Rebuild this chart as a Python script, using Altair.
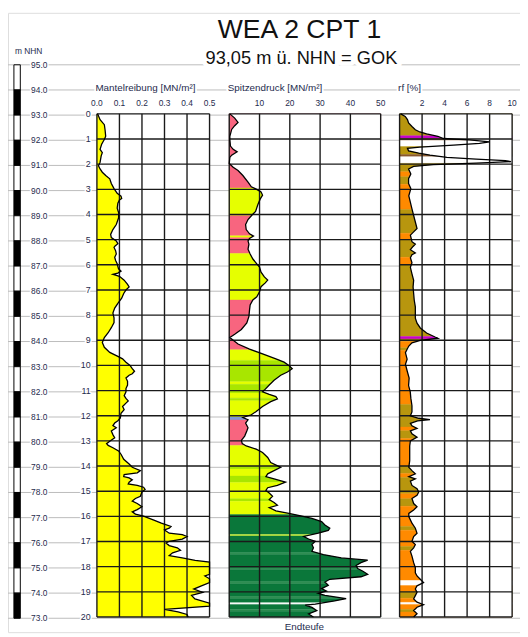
import altair as alt
import pandas as pd

TITLE = "WEA 2 CPT 1"
SUBTITLE = "93,05 m ü. NHN = GOK"
GOK_NHN = 93.05
END_LABEL = "Endteufe"
NHN_UNIT = "m NHN"
HEADERS = ["Mantelreibung [MN/m²]", "Spitzendruck [MN/m²]", "rf [%]"]

# ---------------- Mantelreibung [MN/m²] ----------------
mantel_depth = [0, 0.23, 0.43, 0.62, 0.89, 1.02, 1.08, 1.21, 1.41, 1.54, 1.67, 1.93, 2.06, 2.19, 2.32, 2.45,
                2.58, 2.77, 2.97, 3.16, 3.27, 3.36, 3.42, 3.55, 3.75, 3.94, 4.14, 4.4, 4.6, 4.79, 4.92, 5.05,
                5.16, 5.25, 5.31, 5.44, 5.57, 5.7, 5.83, 5.96, 6.16, 6.25, 6.33, 6.38, 6.46, 6.61, 6.78, 6.88,
                7.0, 7.14, 7.33, 7.53, 7.72, 7.92, 8.11, 8.3, 8.5, 8.7, 8.89, 9.09, 9.28, 9.48, 9.64, 9.74,
                9.87, 10.0, 10.13, 10.23, 10.33, 10.39, 10.5, 10.63, 10.78, 10.92, 11.05, 11.2, 11.31, 11.41,
                11.5, 11.63, 11.76, 11.9, 12.09, 12.2, 12.29, 12.39, 12.48, 12.61, 12.75, 12.88, 13.01, 13.11,
                13.18, 13.27, 13.4, 13.53, 13.73, 13.92, 14.05, 14.18, 14.27, 14.34, 14.42, 14.47, 14.55,
                14.64, 14.71, 14.77, 14.84, 14.93, 15.03, 15.2, 15.29, 15.39, 15.49, 15.62, 15.73, 15.82,
                15.91, 15.99, 16.14, 16.27, 16.4, 16.47, 16.54, 16.67, 16.73, 16.8, 16.9, 16.99, 17.06, 17.16,
                17.25, 17.35, 17.45, 17.56, 17.65, 17.75, 17.82, 18.3, 18.37, 18.48, 18.63, 18.76, 18.89,
                19.02, 19.14, 19.28, 19.45, 19.57, 19.7, 19.8, 19.9, 20.0]
mantel_value = [0.003, 0.014, 0.033, 0.036, 0.039, 0.033, 0.029, 0.021, 0.014, 0.024, 0.019, 0.014, 0.007, 0.014,
                0.024, 0.039, 0.057, 0.064, 0.076, 0.09, 0.107, 0.11, 0.1, 0.093, 0.09, 0.097, 0.096, 0.086,
                0.071, 0.061, 0.064, 0.086, 0.093, 0.081, 0.076, 0.083, 0.086, 0.079, 0.083, 0.09, 0.096, 0.107,
                0.093, 0.071, 0.1, 0.121, 0.136, 0.143, 0.129, 0.119, 0.11, 0.093, 0.079, 0.071, 0.076, 0.076,
                0.064, 0.05, 0.033, 0.024, 0.033, 0.057, 0.093, 0.114, 0.129, 0.147, 0.157, 0.167, 0.157, 0.143,
                0.129, 0.136, 0.136, 0.129, 0.129, 0.121, 0.129, 0.139, 0.129, 0.114, 0.121, 0.107, 0.104, 0.093,
                0.079, 0.071, 0.086, 0.064, 0.071, 0.079, 0.057, 0.043, 0.05, 0.071, 0.096, 0.107, 0.119, 0.143,
                0.157, 0.193, 0.179, 0.121, 0.119, 0.143, 0.157, 0.143, 0.139, 0.179, 0.207, 0.214, 0.2, 0.193,
                0.171, 0.157, 0.179, 0.2, 0.179, 0.157, 0.171, 0.207, 0.25, 0.286, 0.329, 0.321, 0.3, 0.321,
                0.379, 0.4, 0.379, 0.321, 0.307, 0.321, 0.357, 0.371, 0.336, 0.321, 0.379, 0.436, 0.5, 0.5,
                0.479, 0.5, 0.5, 0.464, 0.43, 0.47, 0.42, 0.435, 0.5, 0.5, 0.3, 0.36, 0.4, 0.405]

# ---------------- Spitzendruck [MN/m²] ----------------
spitzen_depth = [0, 0.17, 0.34, 0.47, 0.62, 0.89, 1.02, 1.28, 1.41, 1.51, 1.64, 1.73, 1.97, 2.12, 2.25, 2.45,
                 2.71, 2.9, 2.99, 3.1, 3.23, 3.39, 3.62, 3.88, 4.01, 4.2, 4.4, 4.6, 4.77, 4.86, 4.95, 5.05,
                 5.18, 5.38, 5.57, 5.77, 5.96, 6.09, 6.29, 6.48, 6.61, 6.72, 6.87, 7.07, 7.27, 7.4, 7.6, 7.79,
                 8.05, 8.31, 8.57, 8.76, 8.89, 8.98, 9.15, 9.35, 9.54, 9.74, 9.87, 10.0, 10.13, 10.26, 10.39,
                 10.59, 10.78, 10.98, 11.05, 11.15, 11.24, 11.33, 11.44, 11.63, 11.83, 11.96, 12.07, 12.16,
                 12.29, 12.48, 12.61, 12.81, 12.98, 13.11, 13.2, 13.33, 13.46, 13.66, 13.86, 14.05, 14.18,
                 14.31, 14.42, 14.51, 14.64, 14.77, 14.86, 14.97, 15.07, 15.2, 15.33, 15.45, 15.56, 15.65,
                 15.78, 15.88, 15.99, 16.08, 16.21, 16.34, 16.47, 16.56, 16.67, 16.8, 16.9, 16.99, 17.12,
                 17.25, 17.39, 17.52, 17.65, 17.74, 17.84, 17.95, 18.07, 18.17, 18.3, 18.4, 18.5, 18.61,
                 18.74, 18.87, 18.97, 19.06, 19.14, 19.27, 19.36, 19.49, 19.53, 19.62, 19.75, 19.88, 20.0]
spitzen_value = [0.2, 1.8, 2.9, 1.8, 0.8, 0.2, 0.2, 0.4, 1.3, 2.6, 0.8, 0.2, 0.0, 1.3, 2.9, 4.5, 6.2, 7.3, 8.9,
                 10.5, 11.0, 10.2, 9.4, 8.7, 7.6, 6.2, 5.4, 5.6, 6.7, 8.0, 6.7, 6.2, 6.5, 6.2, 6.9, 7.8, 9.1,
                 10.0, 10.5, 11.6, 12.7, 11.9, 10.5, 10.0, 9.1, 7.8, 6.9, 6.7, 6.5, 5.8, 4.0, 1.8, 0.2, 1.1,
                 2.9, 6.7, 11.0, 15.4, 18.1, 19.7, 20.8, 19.2, 17.0, 14.8, 13.2, 11.6, 11.0, 13.2, 15.4, 15.9,
                 13.7, 11.0, 8.9, 7.3, 4.5, 6.2, 5.4, 6.2, 5.8, 5.1, 4.0, 4.3, 5.6, 8.9, 11.0, 12.7, 13.7, 17.0,
                 14.8, 12.7, 12.1, 14.8, 18.6, 15.9, 12.7, 12.1, 13.2, 14.3, 13.2, 14.8, 15.9, 13.2, 15.4,
                 19.7, 24.0, 27.3, 30.5, 31.6, 33.2, 32.7, 29.4, 24.6, 26.2, 28.4, 27.3, 27.8, 27.3, 31.1,
                 37.0, 45.7, 43.5, 41.9, 42.4, 44.0, 45.7, 43.5, 33.2, 31.6, 32.7, 30.5, 32.1, 29.4, 31.6,
                 38.6, 34.8, 28.4, 25.1, 27.3, 28.9, 26.2, 27.8]

spitzen_band_soil = ["pink", "yellow", "pink", "yellow", "pink", "yellow", "pink", "blue", "pink", "yellow",
                     "lime", "yellow", "lime", "yellow", "lime", "yellow", "blue", "pink", "yellow", "lime",
                     "yellow", "lime", "yellow", "lime", "yellow", "dkgreen", "ltyellow", "dkgreen", "dkgreen2",
                     "dkgreen", "dkgreen2", "dkgreen", "dkgreen2", "dkgreen", "dkgreen2", "dkgreen", "white",
                     "dkgreen", "dkgreen2", "dkgreen"]
spitzen_band_top = [0, 2.95, 4.05, 4.85, 4.92, 5.55, 7.4, 8.87, 8.95, 9.38, 9.8, 10.65, 10.75, 11.1, 11.3,
                    11.4, 12.05, 12.17, 13.18, 14.0, 14.12, 14.4, 14.65, 15.3, 15.4, 15.93, 16.72, 16.78,
                    17.45, 17.52, 18.05, 18.12, 18.6, 18.68, 19.2, 19.27, 19.43, 19.5, 19.7, 19.77]
spitzen_band_bottom = [2.95, 4.05, 4.85, 4.92, 5.55, 7.4, 8.87, 8.95, 9.38, 9.8, 10.65, 10.75, 11.1, 11.3,
                       11.4, 12.05, 12.17, 13.18, 14.0, 14.12, 14.4, 14.65, 15.3, 15.4, 15.93, 16.72, 16.78,
                       17.45, 17.52, 18.05, 18.12, 18.6, 18.68, 19.2, 19.27, 19.43, 19.5, 19.7, 19.77, 20.0]

# ---------------- rf [%] ----------------
rf_depth = [0, 0.1, 0.23, 0.36, 0.5, 0.63, 0.72, 0.8, 0.89, 0.98, 1.03, 1.11, 1.17, 1.24, 1.32, 1.37, 1.47,
            1.56, 1.64, 1.73, 1.8, 1.86, 1.9, 1.96, 2.02, 2.09, 2.19, 2.39, 2.58, 2.77, 2.97, 3.26, 3.52,
            3.78, 4.04, 4.3, 4.56, 4.69, 4.82, 5.08, 5.18, 5.27, 5.4, 5.53, 5.6, 5.72, 5.92, 6.1, 6.36,
            6.62, 6.88, 7.14, 7.4, 7.67, 7.93, 8.12, 8.32, 8.51, 8.71, 8.87, 8.92, 9.0, 9.1, 9.23, 9.36,
            9.49, 9.75, 9.95, 10.26, 10.5, 10.8, 11.05, 11.3, 11.6, 11.85, 12.0, 12.1, 12.15, 12.2, 12.3,
            12.4, 12.5, 12.6, 12.72, 12.85, 13.0, 13.2, 13.53, 13.79, 14.05, 14.18, 14.31, 14.42, 14.51,
            14.6, 14.77, 14.9, 15.03, 15.16, 15.29, 15.49, 15.62, 15.75, 15.88, 16.01, 16.14, 16.27,
            16.47, 16.67, 16.8, 16.99, 17.12, 17.25, 17.39, 17.58, 17.84, 18.04, 18.24, 18.37, 18.5,
            18.63, 18.76, 18.89, 19.02, 19.15, 19.28, 19.41, 19.51, 19.61, 19.74, 19.87, 20.0]
rf_value = [0.1, 0.5, 0.7, 0.8, 1.1, 1.4, 1.8, 2.4, 3.4, 3.9, 6.2, 8.0, 7.1, 4.8, 1.8, 0.7, 0.8, 1.7, 2.7,
            4.2, 6.8, 9.4, 9.9, 6.8, 3.0, 1.25, 0.8, 1.0, 0.8, 0.8, 1.0, 0.82, 0.96, 1.1, 1.25, 1.4, 1.55,
            1.25, 0.96, 1.1, 1.4, 1.2, 0.96, 1.4, 1.1, 0.96, 1.1, 0.96, 1.1, 1.25, 1.2, 1.25, 1.3, 1.4,
            1.4, 1.4, 1.55, 1.84, 2.4, 3.15, 3.4, 1.84, 1.1, 0.82, 0.67, 0.52, 0.67, 0.52, 0.7, 0.85, 0.8,
            0.95, 1.0, 1.1, 1.1, 0.96, 1.7, 2.7, 1.6, 0.96, 1.1, 1.55, 0.96, 1.1, 1.55, 0.96, 0.9, 0.9,
            0.9, 0.82, 1.1, 1.4, 0.82, 1.4, 0.96, 1.1, 1.55, 1.7, 1.55, 1.1, 1.25, 1.55, 1.25, 0.82, 0.82,
            0.96, 1.1, 1.4, 1.55, 1.25, 1.1, 1.4, 1.25, 0.96, 1.1, 1.25, 1.4, 1.4, 1.55, 1.84, 2.13, 1.55,
            1.4, 1.55, 1.4, 1.25, 1.55, 2.13, 1.55, 1.25, 1.55, 1.25]

rf_band_soil = ["olive", "purple", "brown", "white", "olive", "brown", "white", "olive", "orange", "olive",
                "orange", "olive", "orange", "olive", "orange", "olive", "purple", "olive", "orange", "olive",
                "orange", "olive", "orange", "olive", "orange", "olive", "orange", "olive", "orange", "olive",
                "orange", "olive", "orange", "olive", "orange", "white", "orange", "olive", "orange", "white",
                "orange", "olive", "orange"]
rf_band_top = [0, 0.87, 0.97, 1.06, 1.3, 1.62, 1.7, 1.97, 2.3, 2.5, 2.8, 3.8, 4.75, 5.0, 5.7, 6.0, 8.85,
               8.95, 9.05, 9.3, 9.4, 11.55, 12.45, 12.6, 12.9, 14.0, 14.3, 14.45, 15.1, 15.3, 15.6, 16.4,
               16.55, 17.2, 17.35, 18.55, 18.75, 19.0, 19.25, 19.42, 19.5, 19.7, 19.8]
rf_band_bottom = [0.87, 0.97, 1.06, 1.3, 1.62, 1.7, 1.97, 2.3, 2.5, 2.8, 3.8, 4.75, 5.0, 5.7, 6.0, 8.85,
                  8.95, 9.05, 9.3, 9.4, 11.55, 12.45, 12.6, 12.9, 14.0, 14.3, 14.45, 15.1, 15.3, 15.6, 16.4,
                  16.55, 17.2, 17.35, 18.55, 18.75, 19.0, 19.25, 19.42, 19.5, 19.7, 19.8, 20.0]

# ---------------- ticks / labels ----------------
depth_ticks = [0, 1, 2, 3, 4, 5, 6, 7, 8, 9, 10, 11, 12, 13, 14, 15, 16, 17, 18, 19, 20]
nhn_ticks = [95.0, 94.0, 93.0, 92.0, 91.0, 90.0, 89.0, 88.0, 87.0, 86.0, 85.0, 84.0, 83.0, 82.0, 81.0,
             80.0, 79.0, 78.0, 77.0, 76.0, 75.0, 74.0, 73.0]
scale_bar_fill = ["white", "black", "white", "black", "white", "black", "white", "black", "white", "black",
                  "white", "black", "white", "black", "white", "black", "white", "black", "white", "black",
                  "white", "black"]
mantel_ticks = [0.0, 0.1, 0.2, 0.3, 0.4, 0.5]
mantel_tick_labels = ["0.0", "0.1", "0.2", "0.3", "0.4", "0.5"]
spitzen_ticks = [0, 10, 20, 30, 40, 50]
spitzen_tick_labels = ["", "10", "20", "30", "40", "50"]
rf_ticks = [0, 2, 4, 6, 8, 10]
rf_tick_labels = ["", "2", "4", "6", "8", "10"]

soil_domain = ["pink", "yellow", "lime", "dkgreen", "dkgreen2", "ltyellow", "blue", "white",
               "olive", "orange", "purple", "brown"]
soil_range = ["#f8657f", "#e6ff00", "#a8e600", "#0a773a", "#2f8e52", "#c9ef3c", "#7f9bd6", "#ffffff",
              "#b8960e", "#ff8a00", "#c800d0", "#8a5a2e"]

# ---------------- layout ----------------
FONT = "Liberation Sans"
LABEL = "#1e2b4d"
GRID = "#1a1a1a"
W, H = 520, 629
PAGE = 8
Y0, K = 110.6, 25.55
d_top = (PAGE - Y0) / K
d_bot = (PAGE + H - Y0) / K

xs = alt.Scale(domain=[PAGE, PAGE + W], nice=False, zero=False)
ys = alt.Scale(domain=[d_top, d_bot], reverse=True, nice=False, zero=False)
cs = alt.Scale(domain=soil_domain, range=soil_range)


def X(f):
    return alt.X(f"{f}:Q", scale=xs, axis=None)


def Y(f):
    return alt.Y(f"{f}:Q", scale=ys, axis=None)


PANELS = {"mantel": (98.3, 212.7, 0.5), "spitzen": (232.7, 386.5, 50.0), "rf": (405.7, 520.0, 10.0)}


def to_px(panel, field):
    x0, x1, vmax = PANELS[panel]
    return f"{x0} + datum.{field} * {(x1 - x0) / vmax}"


def edges(panel):
    x0, x1, _ = PANELS[panel]
    return {"xl": f"{x0}", "xr": f"{x1}"}


def texts(df, enc, calc=None, halo=3.0, **props):
    props.setdefault("font", FONT)
    base = alt.Chart(df)
    if calc:
        base = base.transform_calculate(**calc)
    base = base.encode(**enc)
    out = []
    if halo:
        out.append(base.mark_text(stroke="white", strokeWidth=halo, strokeJoin="round",
                                  **{**props, "color": "white"}))
    out.append(base.mark_text(**props))
    return out


layers = []

# grey NHN lines across the sheet
nhn_df = pd.DataFrame({"nhn": nhn_ticks, "lab": [f"{v:.1f}" for v in nhn_ticks]})
layers.append(alt.Chart(nhn_df).mark_rule(color="#bcbcbc", strokeWidth=1)
              .transform_calculate(d=f"{GOK_NHN} - datum.nhn")
              .encode(x=alt.value(0), x2=alt.value(W), y=Y("d")))

# elevation scale bar
bar_df = pd.DataFrame({"top": nhn_ticks[:-1], "bot": nhn_ticks[1:], "fill": scale_bar_fill})
layers.append(alt.Chart(bar_df).mark_rect(stroke="black", strokeWidth=1)
              .transform_calculate(dt=f"{GOK_NHN} - datum.top", db=f"{GOK_NHN} - datum.bot")
              .encode(x=alt.value(6), x2=alt.value(12.5), y=Y("dt"), y2=alt.Y2("db"),
                      fill=alt.Fill("fill:N", scale=None)))

# panel backgrounds
for p in PANELS:
    layers.append(alt.Chart(pd.DataFrame({"d0": [depth_ticks[0]], "d1": [depth_ticks[-1]]}))
                  .mark_rect(color="white")
                  .transform_calculate(**edges(p))
                  .encode(x=X("xl"), x2=alt.X2("xr"), y=Y("d0"), y2=alt.Y2("d1")))

mantel_df = pd.DataFrame({"d": mantel_depth, "v": mantel_value})
spitzen_df = pd.DataFrame({"d": spitzen_depth, "v": spitzen_value})
rf_df = pd.DataFrame({"d": rf_depth, "v": rf_value})

# Mantelreibung fill
layers.append(alt.Chart(mantel_df).mark_area(orient="horizontal", color="#ffff00")
              .transform_calculate(xp=to_px("mantel", "v"), **edges("mantel"))
              .encode(x=X("xp"), x2=alt.X2("xl"), y=Y("d")))

# soil bands + white mask right of curve
for p, prof, soil, top, bot in [("spitzen", spitzen_df, spitzen_band_soil, spitzen_band_top, spitzen_band_bottom),
                                ("rf", rf_df, rf_band_soil, rf_band_top, rf_band_bottom)]:
    bdf = pd.DataFrame({"soil": soil, "top": top, "bot": bot})
    layers.append(alt.Chart(bdf).mark_rect(strokeWidth=0.4)
                  .transform_calculate(**edges(p))
                  .encode(x=X("xl"), x2=alt.X2("xr"), y=Y("top"), y2=alt.Y2("bot"),
                          color=alt.Color("soil:N", scale=cs, legend=None),
                          stroke=alt.Stroke("soil:N", scale=cs, legend=None)))
    layers.append(alt.Chart(prof).mark_area(orient="horizontal", color="white")
                  .transform_calculate(xp=to_px(p, "v"), **edges(p))
                  .encode(x=X("xp"), x2=alt.X2("xr"), y=Y("d")))

# grids
for p, ticks in [("mantel", mantel_ticks), ("spitzen", spitzen_ticks), ("rf", rf_ticks)]:
    layers.append(alt.Chart(pd.DataFrame({"v": ticks})).mark_rule(color=GRID, strokeWidth=1.4)
                  .transform_calculate(xp=to_px(p, "v"), dt=f"{depth_ticks[0]}", db=f"{depth_ticks[-1]}")
                  .encode(x=X("xp"), y=Y("dt"), y2=alt.Y2("db")))
    layers.append(alt.Chart(pd.DataFrame({"d": depth_ticks})).mark_rule(color=GRID, strokeWidth=1.4)
                  .transform_calculate(**edges(p))
                  .encode(x=X("xl"), x2=alt.X2("xr"), y=Y("d")))

# outlines
for p, prof in [("mantel", mantel_df), ("spitzen", spitzen_df), ("rf", rf_df)]:
    layers.append(alt.Chart(prof).mark_line(color="black", strokeWidth=1.3)
                  .transform_calculate(xp=to_px(p, "v"))
                  .encode(x=X("xp"), y=Y("d"), order="d:Q"))

# text
layers += texts(nhn_df, dict(x=alt.value(40), y=Y("d"), text="lab:N"),
                calc={"d": f"{GOK_NHN} - datum.nhn"}, align="right", baseline="middle",
                fontSize=8.5, color=LABEL)
layers += texts(pd.DataFrame({"d": depth_ticks, "lab": [str(t) for t in depth_ticks]}),
                dict(x=alt.value(84), y=Y("d"), text="lab:N"), align="right", baseline="middle",
                fontSize=9, color=LABEL)
for p, ticks, labs in [("mantel", mantel_ticks, mantel_tick_labels), ("spitzen", spitzen_ticks, spitzen_tick_labels),
                       ("rf", rf_ticks, rf_tick_labels)]:
    layers += texts(pd.DataFrame({"v": ticks, "lab": labs}), dict(x=X("xp"), y=alt.value(92), text="lab:N"),
                    calc={"xp": to_px(p, "v")}, halo=0, align="center", baseline="middle",
                    fontSize=8.5, color=LABEL)
for p, head in zip(PANELS, HEADERS):
    layers += texts(pd.DataFrame({"lab": [head]}), dict(x=X("xl"), y=alt.value(79), text="lab:N"),
                    calc=edges(p), halo=4, align="left", baseline="alphabetic", dx=-1.5,
                    fontSize=10, color=LABEL)
layers += texts(pd.DataFrame({"lab": [NHN_UNIT]}), dict(x=alt.value(21), y=alt.value(38.5), text="lab:N"),
                halo=0, align="center", baseline="middle", fontSize=8.5, color=LABEL)
layers += texts(pd.DataFrame({"lab": [TITLE]}), dict(x=alt.value(296), y=alt.value(25.5), text="lab:N"),
                halo=0, align="center", baseline="alphabetic", fontSize=27, color="#111111")
layers += texts(pd.DataFrame({"lab": [SUBTITLE]}), dict(x=alt.value(298), y=alt.value(52), text="lab:N"),
                halo=9, align="center", baseline="alphabetic", fontSize=18.5, color="#111111")
layers += texts(pd.DataFrame({"lab": [END_LABEL]}), dict(x=alt.value(301), y=alt.value(624), text="lab:N"),
                halo=0, align="center", baseline="middle", fontSize=10, color=LABEL)

chart = (alt.layer(*layers)
         .properties(width=W, height=H, autosize="none", padding=0)
         .configure_view(stroke=None)
         .configure(font=FONT))

chart.save("out.html", embed_options={"renderer": "svg", "actions": False})
